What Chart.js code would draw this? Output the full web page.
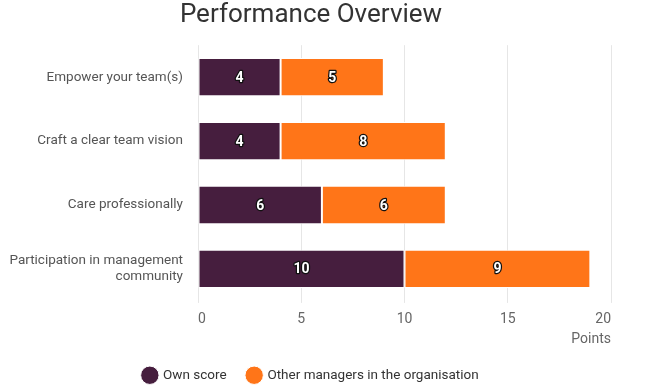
<!DOCTYPE html>
<html>
<head>
<meta charset="utf-8">
<script src="https://cdn.jsdelivr.net/npm/chart.js@4"></script>
<style>
  body { margin: 0; background: #fff; }
  #wrap { width: 622px; height: 392px; }
</style>
</head>
<body>
<div id="wrap"><canvas id="perfChart"></canvas></div>
<script>
// --- Data ---
const categories = [
  "Empower your team(s)",
  "Craft a clear team vision",
  "Care professionally",
  ["Participation in management", "community"]
];
const ownScore = [4, 4, 6, 10];
const otherManagers = [5, 8, 6, 9];
const seriesNames = ["Own score", "Other managers in the organisation"];

// --- Bar value labels (white text, dark outline) ---
const barLabels = {
  id: "barLabels",
  afterDatasetsDraw(chart) {
    const ctx = chart.ctx;
    ctx.save();
    ctx.font = "bold 14px Roboto";
    ctx.textAlign = "center";
    ctx.textBaseline = "middle";
    ctx.lineJoin = "round";
    chart.data.datasets.forEach((ds, i) => {
      const meta = chart.getDatasetMeta(i);
      meta.data.forEach((bar, j) => {
        const cx = (bar.x + bar.base) / 2;
        const text = String(ds.data[j]);
        ctx.lineWidth = 2.5;
        ctx.strokeStyle = "#111";
        ctx.strokeText(text, cx, bar.y + 1);
        ctx.fillStyle = "#fff";
        ctx.fillText(text, cx, bar.y + 1);
      });
    });
    ctx.restore();
  }
};

const ctx = document.getElementById("perfChart").getContext("2d");
new Chart(ctx, {
  type: "bar",
  data: {
    labels: categories,
    datasets: [
      {
        label: seriesNames[0],
        data: ownScore,
        backgroundColor: "#461e3e",
        borderColor: "#ffffff",
        borderWidth: 1,
        borderSkipped: false,
        barPercentage: 0.6,
        categoryPercentage: 1
      },
      {
        label: seriesNames[1],
        data: otherManagers,
        backgroundColor: "#ff7518",
        borderColor: "#ffffff",
        borderWidth: 1,
        borderSkipped: false,
        barPercentage: 0.6,
        categoryPercentage: 1
      }
    ]
  },
  options: {
    indexAxis: "y",
    responsive: true,
    maintainAspectRatio: false,
    animation: false,
    layout: { padding: 0 },
    plugins: {
      title: {
        display: true,
        text: "Performance Overview",
        color: "#333",
        font: { family: "Roboto", size: 26, weight: "normal" },
        padding: { top: 0, bottom: 14 }
      },
      legend: {
        position: "bottom",
        labels: {
          usePointStyle: true,
          pointStyle: "circle",
          boxWidth: 13,
          boxHeight: 13,
          padding: 21,
          color: "#333",
          font: { family: "Roboto", size: 13.5 }
        }
      },
      tooltip: { enabled: false }
    },
    scales: {
      x: {
        stacked: true,
        min: 0,
        max: 20,
        ticks: {
          stepSize: 5,
          align: "inner",
          color: "#666",
          padding: 8,
          font: { family: "Roboto", size: 14 }
        },
        grid: { color: "#e6e6e6", tickLength: 2, drawTicks: true },
        border: { display: false },
        title: {
          display: true,
          text: "Points",
          align: "end",
          color: "#666",
          font: { family: "Roboto", size: 14 },
          padding: { top: -5, bottom: 0 }
        }
      },
      y: {
        stacked: true,
        afterFit(axis) { axis.width = 198; },
        ticks: {
          color: "#555",
          padding: 15,
          font: { family: "Roboto", size: 13.5 }
        },
        grid: { display: false, drawTicks: false },
        border: { display: false }
      },
      // empty right gutter so the plot ends where the reference does
      gutter: {
        type: "linear",
        axis: "y",
        position: "right",
        afterFit(axis) { axis.width = 11; },
        ticks: { display: false },
        grid: { display: false, drawTicks: false },
        border: { display: false }
      }
    }
  },
  plugins: [barLabels]
});
</script>
</body>
</html>
